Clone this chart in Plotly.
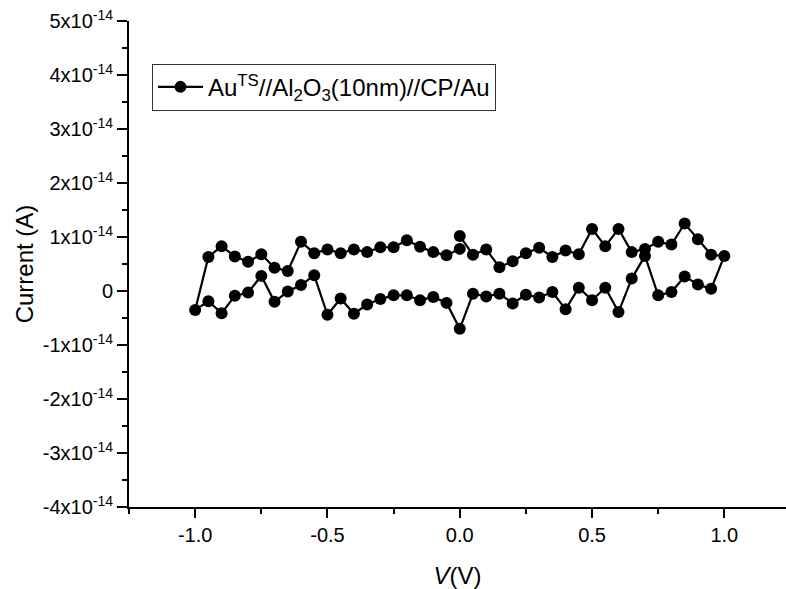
import plotly.graph_objects as go

# Voltage sweep (V) and current (units of 1e-14 A)
V_sweep1 = [0.0, 0.05, 0.1, 0.15, 0.2, 0.25, 0.3, 0.35, 0.4, 0.45, 0.5,
            0.55, 0.6, 0.65, 0.7, 0.75, 0.8, 0.85, 0.9, 0.95, 1.0]
I_sweep1 = [1.02, 0.67, 0.77, 0.44, 0.55, 0.70, 0.80, 0.63, 0.75, 0.68, 1.15,
            0.83, 1.15, 0.72, 0.78, 0.91, 0.86, 1.25, 0.96, 0.67, 0.65]

V_sweep2 = [0.95, 0.9, 0.85, 0.8, 0.75, 0.7, 0.65, 0.6, 0.55, 0.5,
            0.45, 0.4, 0.35, 0.3, 0.25, 0.2, 0.15, 0.1, 0.05, 0.0,
            -0.05, -0.1, -0.15, -0.2, -0.25, -0.3, -0.35, -0.4, -0.45, -0.5,
            -0.55, -0.6, -0.65, -0.7, -0.75, -0.8, -0.85, -0.9, -0.95, -1.0]
I_sweep2 = [0.04, 0.12, 0.27, -0.02, -0.08, 0.65, 0.23, -0.39, 0.06, -0.17,
            0.06, -0.34, -0.02, -0.12, -0.07, -0.23, -0.05, -0.10, -0.05, -0.70,
            -0.22, -0.11, -0.17, -0.08, -0.08, -0.15, -0.25, -0.42, -0.14, -0.44,
            0.29, 0.11, -0.01, -0.20, 0.28, -0.03, -0.09, -0.41, -0.19, -0.35]

V_sweep3 = [-0.95, -0.9, -0.85, -0.8, -0.75, -0.7, -0.65, -0.6, -0.55, -0.5,
            -0.45, -0.4, -0.35, -0.3, -0.25, -0.2, -0.15, -0.1, -0.05, 0.0]
I_sweep3 = [0.63, 0.83, 0.64, 0.54, 0.68, 0.43, 0.37, 0.91, 0.70, 0.77,
            0.70, 0.77, 0.72, 0.81, 0.81, 0.94, 0.82, 0.72, 0.66, 0.78]

SCALE = 1e-14
y_tick_vals = [-4, -3, -2, -1, 0, 1, 2, 3, 4, 5]
y_tick_text = ["-4x10<sup>-14</sup>", "-3x10<sup>-14</sup>", "-2x10<sup>-14</sup>",
               "-1x10<sup>-14</sup>", "0", "1x10<sup>-14</sup>", "2x10<sup>-14</sup>",
               "3x10<sup>-14</sup>", "4x10<sup>-14</sup>", "5x10<sup>-14</sup>"]
x_tick_vals = [-1.0, -0.5, 0.0, 0.5, 1.0]
x_tick_text = ["-1.0", "-0.5", "0.0", "0.5", "1.0"]

V = V_sweep1 + V_sweep2 + V_sweep3
I = [v * SCALE for v in (I_sweep1 + I_sweep2 + I_sweep3)]

FONT = "Liberation Sans, Arial, sans-serif"

fig = go.Figure()
fig.add_trace(go.Scatter(
    x=V, y=I, mode="lines+markers",
    name="Au<sup>TS</sup>//Al<sub>2</sub>O<sub>3</sub>(10nm)//CP/Au",
    line=dict(color="black", width=2.2),
    marker=dict(color="black", size=12),
))

fig.update_layout(
    width=786, height=589,
    margin=dict(l=129, r=0, t=21, b=82),
    paper_bgcolor="white", plot_bgcolor="white",
    font=dict(family=FONT, color="black", size=20),
    showlegend=True,
    legend=dict(
        x=0.035, y=0.912, xanchor="left", yanchor="top",
        bgcolor="white", bordercolor="#333333", borderwidth=1,
        font=dict(family=FONT, size=24, color="black"),
        itemwidth=45,
        tracegroupgap=0,
    ),
)

fig.update_xaxes(
    range=[-1.25, 1.233],
    tickmode="array", tickvals=x_tick_vals, ticktext=x_tick_text,
    showline=True, linecolor="black", linewidth=2,
    ticks="outside", ticklen=9, tickwidth=2, tickcolor="black",
    showgrid=False, zeroline=False,
    tickfont=dict(family=FONT, size=20, color="black"),
    minor=dict(ticks="outside", ticklen=5, tickwidth=2, tickcolor="black",
               dtick=0.25, tick0=0, showgrid=False),
    title=dict(text="<i>V</i>(V)", font=dict(family=FONT, size=24, color="black"),
               standoff=22),
)

fig.update_yaxes(
    range=[-4 * SCALE, 5 * SCALE],
    tickmode="array", tickvals=[t * SCALE for t in y_tick_vals], ticktext=y_tick_text,
    showline=True, linecolor="black", linewidth=2,
    ticks="outside", ticklen=10, tickwidth=2, tickcolor="black",
    showgrid=False, zeroline=False,
    tickfont=dict(family=FONT, size=20, color="black"),
    minor=dict(ticks="outside", ticklen=5, tickwidth=2, tickcolor="black",
               dtick=0.5 * SCALE, tick0=0, showgrid=False),
    title=dict(text="Current (A)", font=dict(family=FONT, size=24, color="black"),
               standoff=2),
)

fig.write_html("out.html")
